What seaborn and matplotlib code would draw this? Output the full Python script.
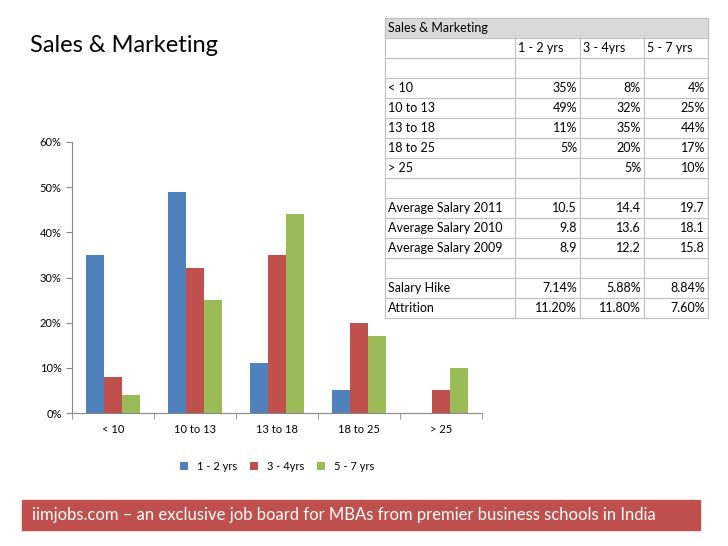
import matplotlib
matplotlib.use("Agg")
import matplotlib.pyplot as plt
import seaborn as sns
import pandas as pd
import numpy as np

plt.rcParams['font.family'] = ['Lato', 'DejaVu Sans']

# data
groups = ["< 10", "10 to 13", "13 to 18", "18 to 25", "> 25"]
series = ["1 - 2 yrs", "3 - 4yrs", "5 - 7 yrs"]
vals_1_2 = [35, 49, 11, 5, np.nan]
vals_3_4 = [8, 32, 35, 20, 5]
vals_5_7 = [4, 25, 44, 17, 10]
colors = ["#4F81BD", "#C0504D", "#9BBB59"]

table_header = ["1 - 2 yrs", "3 - 4yrs", "5 - 7 yrs"]
table_rows = [
    ["< 10", "35%", "8%", "4%"],
    ["10 to 13", "49%", "32%", "25%"],
    ["13 to 18", "11%", "35%", "44%"],
    ["18 to 25", "5%", "20%", "17%"],
    ["> 25", "", "5%", "10%"],
    ["", "", "", ""],
    ["Average Salary 2011", "10.5", "14.4", "19.7"],
    ["Average Salary 2010", "9.8", "13.6", "18.1"],
    ["Average Salary 2009", "8.9", "12.2", "15.8"],
    ["", "", "", ""],
    ["Salary Hike", "7.14%", "5.88%", "8.84%"],
    ["Attrition", "11.20%", "11.80%", "7.60%"],
]

df = pd.DataFrame({
    "group": groups * 3,
    "series": sum([[s] * 5 for s in series], []),
    "value": vals_1_2 + vals_3_4 + vals_5_7,
}).dropna()

W, H = 728, 546
fig = plt.figure(figsize=(7.28, 5.46), dpi=100)
fig.patch.set_facecolor("white")

fig.text(30 / W, 1 - 45 / H, "Sales & Marketing", fontsize=17, va="center", ha="left")

# bar chart
ax = fig.add_axes([72 / W, 1 - 413 / H, 410 / W, 271 / H])
sns.barplot(data=df, x="group", y="value", hue="series", order=groups,
            hue_order=series, palette=colors, width=0.66, ax=ax, saturation=1)
ax.set_ylim(0, 60)
ax.set_yticks(range(0, 61, 10))
ax.set_yticklabels([f"{t}%" for t in range(0, 61, 10)], fontsize=8)
ax.tick_params(axis='x', labelsize=8, length=4, color="#888888")
ax.tick_params(axis='y', length=4, color="#888888")
ax.set_xticks(np.arange(-0.5, 5, 1), minor=True)
ax.tick_params(axis='x', which='major', length=0, pad=8)
ax.tick_params(axis='x', which='minor', length=4, color="#888888")
ax.set_xlim(-0.5, 4.5)
ax.set_xlabel("")
ax.set_ylabel("")
for s in ["top", "right"]:
    ax.spines[s].set_visible(False)
for s in ["left", "bottom"]:
    ax.spines[s].set_color("#888888")
ax.legend(loc="upper center", bbox_to_anchor=(0.5, -0.14), ncol=3, frameon=False,
          fontsize=8, handlelength=0.7, handleheight=0.7, columnspacing=1.2)

# table
tx0, tx1 = 385, 708
ty0, rh = 18, 20
col_x = [385, 515, 580, 644, 708]
tax = fig.add_axes([0, 0, 1, 1])
tax.set_xlim(0, W)
tax.set_ylim(H, 0)
tax.axis("off")
n_rows = 15
tax.add_patch(plt.Rectangle((tx0, ty0), tx1 - tx0, rh, color="#D9D9D9", zorder=0))
tax.add_patch(plt.Rectangle((tx0, ty0 + rh), tx1 - tx0, rh * (n_rows - 1), color="white", zorder=0))
for i in range(n_rows + 1):
    tax.plot([tx0, tx1], [ty0 + i * rh] * 2, color="#BFBFBF", lw=0.8)
for x in col_x:
    y_start = ty0 + rh if x not in (tx0, tx1) else ty0
    tax.plot([x, x], [y_start, ty0 + n_rows * rh], color="#BFBFBF", lw=0.8)
tax.text(tx0 + 3, ty0 + rh / 2, "Sales & Marketing", fontsize=9, va="center")
for j, h in enumerate(table_header):
    tax.text(col_x[j + 1] + 3, ty0 + 1.5 * rh, h, fontsize=9, va="center")
for i, row in enumerate(table_rows):
    y = ty0 + (3 + i + 0.5) * rh
    tax.text(tx0 + 3, y, row[0], fontsize=9, va="center")
    for j in range(3):
        tax.text(col_x[j + 2] - 3, y, row[j + 1], fontsize=9, va="center", ha="right")

# footer banner
tax.add_patch(plt.Rectangle((22, 500), 678, 30, color="#C0504D"))
tax.text(32, 515, "iimjobs.com \u2013 an exclusive job board for MBAs from premier business schools in India",
         color="white", fontsize=12, va="center", ha="left")

fig.savefig("out.png", dpi=100)
